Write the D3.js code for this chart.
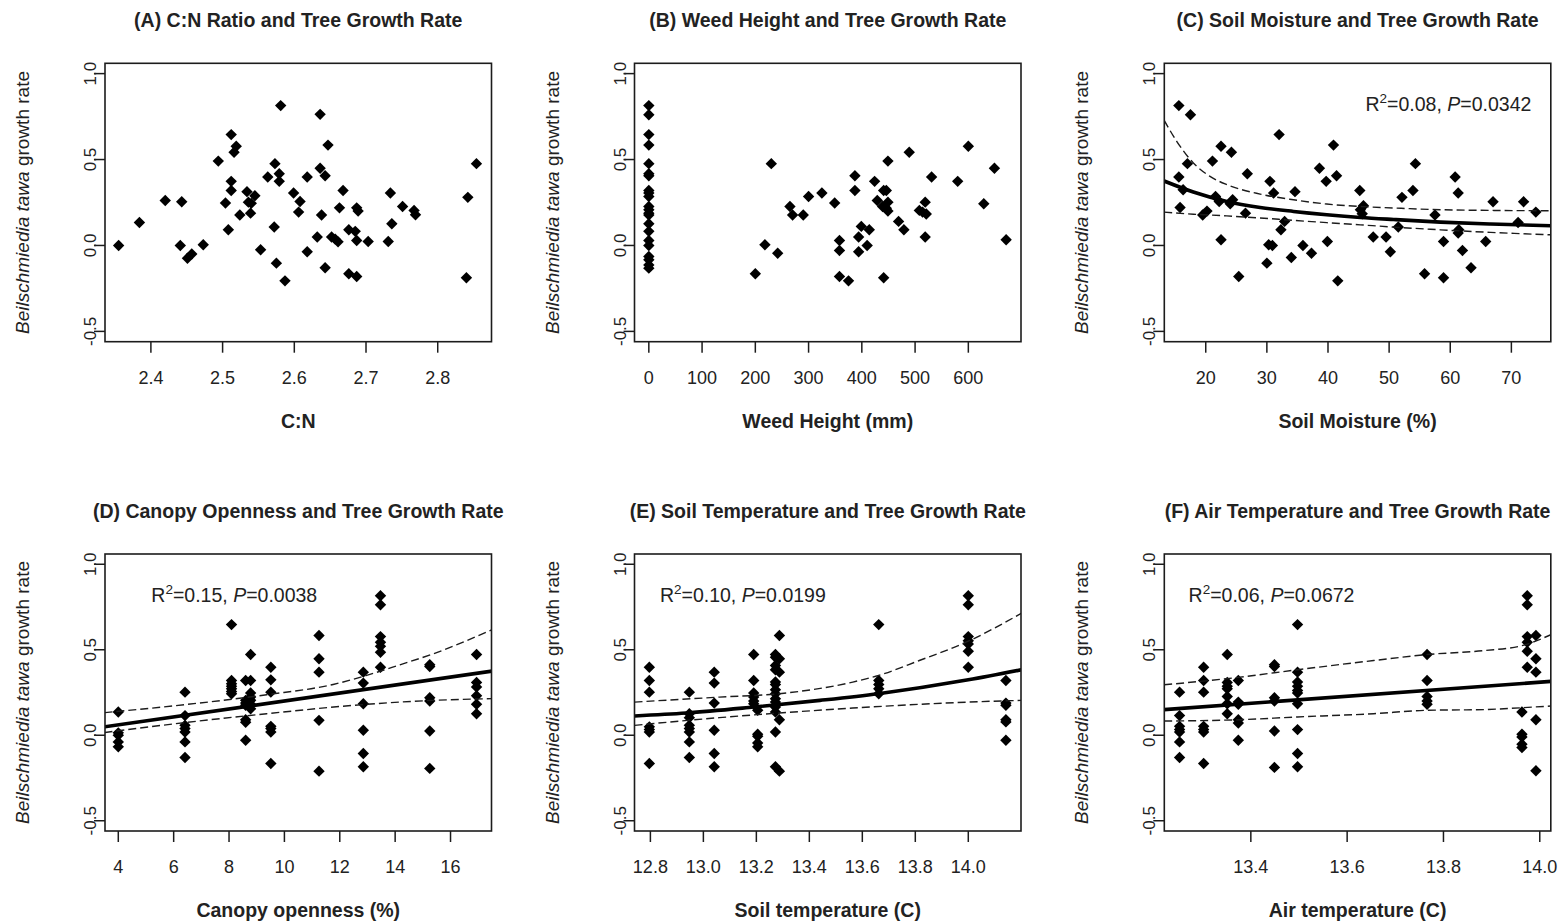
<!DOCTYPE html>
<html>
<head>
<meta charset="utf-8">
<script src="https://cdn.jsdelivr.net/npm/d3@7"></script>
<style>
  body { margin: 0; background: #fff; }
  svg { display: block; }
  text { font-family: "Liberation Sans", Arial, sans-serif; fill: #222; }
</style>
</head>
<body>
<svg id="chart" width="1562" height="923"></svg>
<script>
// ---------- data ----------
// (A) C:N ratio vs growth rate
const cnPoints = [
  [2.355,0.0],[2.384,0.134],[2.420,0.262],[2.443,0.254],[2.441,0.0],[2.451,-0.074],[2.457,-0.05],
  [2.473,0.004],[2.494,0.491],[2.512,0.645],[2.519,0.577],[2.516,0.542],[2.512,0.373],[2.512,0.320],
  [2.504,0.247],[2.508,0.091],[2.524,0.177],[2.534,0.313],[2.536,0.252],[2.540,0.245],[2.539,0.188],
  [2.545,0.289],[2.553,-0.025],[2.563,0.398],[2.573,0.476],[2.581,0.814],[2.579,0.417],[2.579,0.373],
  [2.572,0.107],[2.575,-0.103],[2.587,-0.206],[2.599,0.305],[2.608,0.256],[2.606,0.194],[2.618,0.398],
  [2.618,-0.037],[2.632,0.049],[2.636,0.763],[2.636,0.449],[2.643,0.406],[2.647,0.584],[2.638,0.177],
  [2.643,-0.130],[2.652,0.049],[2.657,0.037],[2.661,0.021],[2.663,0.219],[2.668,0.320],[2.676,0.091],
  [2.685,0.082],[2.687,0.029],[2.687,0.219],[2.689,0.2],[2.676,-0.165],[2.687,-0.181],[2.703,0.023],
  [2.731,0.023],[2.734,0.305],[2.736,0.126],[2.751,0.227],[2.767,0.204],[2.769,0.179],[2.842,0.280],
  [2.840,-0.188],[2.854,0.476]
];

// (B) weed height (mm) vs growth rate
const weedPoints = [
  [0,0.814],[0,0.761],[0,0.645],[0,0.584],[0,0.476],[0,0.417],[0,0.406],[0,0.320],[0,0.305],[0,0.285],
  [0,0.227],[0,0.208],[0,0.188],[0,0.177],[0,0.126],[0,0.082],[0,0.029],[0,0.0],[0,-0.064],[0,-0.083],
  [0,-0.113],[0,-0.132],
  [200,-0.165],[218,0.004],[230,0.476],[242,-0.045],[265,0.227],[270,0.177],[290,0.177],[300,0.285],
  [325,0.305],[349,0.247],[358,0.029],[358,-0.029],[358,-0.181],[375,-0.206],[387,0.406],[387,0.320],
  [394,0.049],[394,-0.037],[399,0.111],[410,0.0],[414,0.091],[424,0.373],[429,0.262],[441,0.320],
  [446,0.320],[439,0.227],[446,0.217],[449,0.252],[449,0.2],[441,-0.188],[449,0.491],[469,0.140],
  [479,0.091],[489,0.542],[508,0.204],[514,0.194],[519,0.252],[521,0.183],[519,0.049],[531,0.398],
  [580,0.373],[600,0.577],[629,0.243],[649,0.449],[671,0.033]
];

// (C) soil moisture (%) vs growth rate
const moisturePoints = [
  [15.6,0.814],[15.6,0.398],[15.8,0.221],[16.3,0.324],[17.5,0.761],[17.0,0.476],[19.5,0.177],[20.2,0.2],
  [21.1,0.491],[21.6,0.285],[22.2,0.256],[22.5,0.577],[22.5,0.033],[24.2,0.542],[24.4,0.266],[24.0,0.243],
  [25.4,-0.181],[26.5,0.188],[26.8,0.417],[30.0,-0.103],[30.5,0.373],[30.3,0.004],[30.9,0.0],[31.1,0.305],
  [32.0,0.645],[32.3,0.091],[32.9,0.140],[34.0,-0.070],[34.6,0.313],[35.9,0.0],[37.3,-0.045],[38.6,0.449],
  [39.7,0.373],[39.9,0.023],[40.9,0.584],[41.4,0.406],[41.6,-0.206],[45.2,0.320],[45.3,0.208],[45.8,0.231],
  [45.6,0.184],[47.4,0.049],[49.5,0.049],[50.2,-0.037],[51.5,0.107],[52.1,0.280],[53.9,0.320],[54.3,0.476],
  [55.8,-0.165],[57.5,0.177],[58.9,0.023],[58.9,-0.188],[60.8,0.398],[61.3,0.305],[61.4,0.091],[61.3,0.072],
  [62.0,-0.029],[63.4,-0.130],[65.8,0.023],[67.0,0.254],[71.1,0.134],[72.0,0.254],[74.0,0.194]
];
const moistureFit   = [[13.2,0.375],[17.97,0.311],[23.44,0.256],[28.9,0.221],[34.36,0.198],[39.8,0.179],
                       [45.3,0.163],[50.75,0.151],[58.4,0.136],[66.6,0.125],[76.5,0.115]];
const moistureUpper = [[13.2,0.728],[15.25,0.606],[17.97,0.48],[20.7,0.402],[23.44,0.354],[28.9,0.299],
                       [34.36,0.266],[39.8,0.241],[45.3,0.227],[50.75,0.218],[58.4,0.208],[66.6,0.204],[76.5,0.202]];
const moistureLower = [[13.2,0.194],[17.97,0.182],[23.44,0.172],[28.9,0.16],[34.36,0.146],[39.8,0.133],
                       [45.3,0.12],[50.75,0.107],[58.4,0.091],[66.6,0.076],[76.5,0.062]];

// (D) canopy openness (%) vs growth rate, one column per plot
const canopyOpenness = [4.0, 6.41, 8.09, 8.60, 8.78, 9.51, 11.25, 12.85, 13.47, 15.25, 16.94];
const canopyGrowth = [
  [0.136,0.014,0.0,-0.039,-0.068],
  [0.252,0.115,0.058,0.039,0.019,-0.039,-0.130],
  [0.647,0.320,0.301,0.287,0.272,0.256,0.243],
  [0.320,0.204,0.188,0.175,0.091,0.076,-0.029],
  [0.472,0.320,0.247,0.223,0.204,0.181,0.155],
  [0.398,0.324,0.252,0.052,0.039,0.019,-0.165],
  [0.583,0.447,0.369,0.087,-0.210],
  [0.369,0.305,0.184,0.029,-0.107,-0.184],
  [0.816,0.763,0.577,0.544,0.520,0.485,0.398],
  [0.412,0.402,0.219,0.2,0.025,-0.194],
  [0.472,0.309,0.282,0.231,0.181,0.126]
];
const canopyFit   = [[3.5,0.049],[17.5,0.375]];
const canopyUpper = [[3.5,0.132],[6.41,0.179],[9.36,0.237],[11.76,0.297],[12.97,0.35],[14.17,0.412],[15.37,0.476],[17.5,0.617]];
const canopyLower = [[3.5,0.016],[6.41,0.074],[9.36,0.126],[12.97,0.181],[15.37,0.204],[17.5,0.214]];

// (E) soil temperature (C) vs growth rate
const soilTemp = [12.796, 12.947, 13.041, 13.19, 13.205, 13.272, 13.287, 13.662, 14.0, 14.142];
const soilTempGrowth = [
  [0.398,0.320,0.252,0.049,0.033,0.019,-0.165],
  [0.252,0.126,0.103,0.058,0.039,0.019,-0.039,-0.130],
  [0.369,0.305,0.188,0.029,-0.107,-0.184],
  [0.472,0.320,0.247,0.223,0.2,0.184],
  [0.146,0.006,-0.006,-0.045,-0.068],
  [0.472,0.456,0.408,0.383,0.311,0.297,0.266,0.243,0.214,0.194,0.165,0.136,0.019,-0.184],
  [0.583,0.447,0.369,0.091,-0.210],
  [0.647,0.320,0.297,0.272,0.243],
  [0.816,0.763,0.577,0.553,0.534,0.491,0.398],
  [0.320,0.188,0.175,0.091,0.078,-0.029]
];
const soilTempFit   = [[12.74,0.113],[12.935,0.130],[13.19,0.165],[13.44,0.204],[13.66,0.243],[14.0,0.324],[14.2,0.383]];
const soilTempUpper = [[12.74,0.194],[13.06,0.223],[13.287,0.243],[13.564,0.311],[13.662,0.35],[13.815,0.437],[14.0,0.55],[14.2,0.713]];
const soilTempLower = [[12.74,0.058],[13.06,0.103],[13.287,0.130],[13.564,0.159],[13.815,0.181],[14.0,0.194],[14.2,0.204]];

// (F) air temperature (C) vs growth rate
const airTemp = [13.252, 13.302, 13.351, 13.374, 13.449, 13.497, 13.766, 13.963, 13.974, 13.992];
const airTempGrowth = [
  [0.252,0.115,0.052,0.033,0.019,-0.039,-0.130],
  [0.398,0.320,0.252,0.052,0.033,0.019,-0.165],
  [0.472,0.309,0.287,0.272,0.227,0.184,0.126],
  [0.320,0.194,0.181,0.091,0.072,-0.029],
  [0.412,0.402,0.219,0.2,0.025,-0.188],
  [0.647,0.369,0.311,0.287,0.262,0.247,0.184,0.033,-0.107,-0.184],
  [0.472,0.320,0.227,0.2,0.181],
  [0.136,0.006,-0.010,-0.052,-0.072],
  [0.816,0.763,0.577,0.544,0.491,0.398],
  [0.583,0.447,0.369,0.091,-0.208]
];
const airTempFit   = [[13.22,0.150],[14.023,0.315]];
const airTempUpper = [[13.22,0.295],[13.378,0.34],[13.497,0.383],[13.655,0.437],[13.766,0.472],[13.884,0.495],[13.963,0.524],[14.023,0.588]];
const airTempLower = [[13.22,0.083],[13.378,0.091],[13.497,0.107],[13.655,0.126],[13.766,0.146],[13.884,0.150],[13.963,0.161],[14.023,0.171]];

// axis ticks
const yTicks = [-0.5, 0.0, 0.5, 1.0];
const cnTicks = [2.4, 2.5, 2.6, 2.7, 2.8];
const weedTicks = [0, 100, 200, 300, 400, 500, 600];
const moistureTicks = [20, 30, 40, 50, 60, 70];
const canopyTicks = [4, 6, 8, 10, 12, 14, 16];
const soilTempTicks = [12.8, 13.0, 13.2, 13.4, 13.6, 13.8, 14.0];
const airTempTicks = [13.4, 13.6, 13.8, 14.0];

// ---------- layout ----------
const columnColumns = (xs, groups) => xs.flatMap((x, i) => groups[i].map(y => [x, y]));
const colLeft = [105, 634.5, 1164.3];
const boxW = 386.5;
const rowTop = [63.3, 554];
const boxH = [278.4, 277];
const yDomain = [-0.56, 1.06];
const fmt1 = v => v.toFixed(1);
const fmt0 = v => String(v);

const panels = [
  { title: "(A) C:N Ratio and Tree Growth Rate", xlab: "C:N", col: 0, row: 0,
    xDomain: [2.336, 2.875], ticks: cnTicks, fmt: fmt1, points: cnPoints },
  { title: "(B) Weed Height and Tree Growth Rate", xlab: "Weed Height (mm)", col: 1, row: 0,
    xDomain: [-26.9, 698.9], ticks: weedTicks, fmt: fmt0, points: weedPoints },
  { title: "(C) Soil Moisture and Tree Growth Rate", xlab: "Soil Moisture (%)", col: 2, row: 0,
    xDomain: [13.22, 76.45], ticks: moistureTicks, fmt: fmt0, points: moisturePoints,
    fit: moistureFit, upper: moistureUpper, lower: moistureLower,
    stat: { r2: "0.08", p: "0.0342", x: 59.7 } },
  { title: "(D) Canopy Openness and Tree Growth Rate", xlab: "Canopy openness (%)", col: 0, row: 1,
    xDomain: [3.52, 17.48], ticks: canopyTicks, fmt: fmt0, points: columnColumns(canopyOpenness, canopyGrowth),
    fit: canopyFit, upper: canopyUpper, lower: canopyLower,
    stat: { r2: "0.15", p: "0.0038", x: 8.19 } },
  { title: "(E) Soil Temperature and Tree Growth Rate", xlab: "Soil temperature (C)", col: 1, row: 1,
    xDomain: [12.74, 14.199], ticks: soilTempTicks, fmt: fmt1, points: columnColumns(soilTemp, soilTempGrowth),
    fit: soilTempFit, upper: soilTempUpper, lower: soilTempLower,
    stat: { r2: "0.10", p: "0.0199", x: 13.149 } },
  { title: "(F) Air Temperature and Tree Growth Rate", xlab: "Air temperature (C)", col: 2, row: 1,
    xDomain: [13.2203, 14.0229], ticks: airTempTicks, fmt: fmt1, points: columnColumns(airTemp, airTempGrowth),
    fit: airTempFit, upper: airTempUpper, lower: airTempLower,
    stat: { r2: "0.06", p: "0.0672", x: 13.443 } }
];

// ---------- drawing ----------
const svg = d3.select("#chart");
const ink = "#1c1c1c";
const diamond = r => `M0,${-r}L${r},0L0,${r}L${-r},0Z`;

panels.forEach((p, i) => {
  const left = colLeft[p.col], top = rowTop[p.row], h = boxH[p.row];
  const right = left + boxW, bottom = top + h;
  const x = d3.scaleLinear().domain(p.xDomain).range([left, right]);
  const y = d3.scaleLinear().domain(yDomain).range([bottom, top]);
  const g = svg.append("g");

  const clipId = "clip" + i;
  svg.append("clipPath").attr("id", clipId)
    .append("rect").attr("x", left).attr("y", top).attr("width", boxW).attr("height", h);

  // points
  g.append("g").selectAll("path").data(p.points).join("path")
    .attr("d", diamond(5.7))
    .attr("transform", d => `translate(${x(d[0])},${y(d[1])})`)
    .attr("fill", "#000");

  // fitted curve and confidence band
  if (p.fit) {
    const line = d3.line().x(d => x(d[0])).y(d => y(d[1])).curve(d3.curveMonotoneX);
    const lines = g.append("g").attr("clip-path", `url(#${clipId})`).attr("fill", "none");
    [p.upper, p.lower].forEach(band => {
      lines.append("path").attr("d", line(band))
        .attr("stroke", ink).attr("stroke-width", 1.4).attr("stroke-dasharray", "8,4");
    });
    lines.append("path").attr("d", line(p.fit))
      .attr("stroke", "#000").attr("stroke-width", 3.6);
  }

  // frame
  g.append("rect").attr("x", left).attr("y", top).attr("width", boxW).attr("height", h)
    .attr("fill", "none").attr("stroke", ink).attr("stroke-width", 1.6);

  // x axis
  const xa = g.append("g");
  xa.selectAll("line").data(p.ticks).join("line")
    .attr("x1", d => x(d)).attr("x2", d => x(d))
    .attr("y1", bottom).attr("y2", bottom + 11)
    .attr("stroke", ink).attr("stroke-width", 1.5);
  xa.selectAll("text").data(p.ticks).join("text")
    .attr("x", d => x(d)).attr("y", bottom + 42)
    .attr("text-anchor", "middle").attr("font-size", 18)
    .text(p.fmt);

  // y axis
  const ya = g.append("g");
  ya.selectAll("line").data(yTicks).join("line")
    .attr("x1", left - 11).attr("x2", left)
    .attr("y1", d => y(d)).attr("y2", d => y(d))
    .attr("stroke", ink).attr("stroke-width", 1.5);
  ya.selectAll("text").data(yTicks).join("text")
    .attr("transform", d => `translate(${left - 9},${y(d)}) rotate(-90)`)
    .attr("text-anchor", "middle").attr("font-size", 17)
    .text(fmt1);

  // titles
  g.append("text").attr("x", left + boxW / 2).attr("y", top - 36.5)
    .attr("text-anchor", "middle").attr("font-size", 19.5).attr("font-weight", "bold")
    .text(p.title);
  g.append("text").attr("x", left + boxW / 2).attr("y", bottom + 86)
    .attr("text-anchor", "middle").attr("font-size", 19.5).attr("font-weight", "bold")
    .text(p.xlab);

  const yl = g.append("text")
    .attr("transform", `translate(${left - 76},${top + h / 2}) rotate(-90)`)
    .attr("text-anchor", "middle").attr("font-size", 19);
  yl.append("tspan").attr("font-style", "italic").text("Beilschmiedia tawa");
  yl.append("tspan").text(" growth rate");

  // regression statistics
  if (p.stat) {
    const t = g.append("text").attr("x", x(p.stat.x)).attr("y", y(0.78))
      .attr("text-anchor", "middle").attr("font-size", 19.5);
    t.append("tspan").text("R");
    t.append("tspan").attr("font-size", 13.5).attr("dy", -8).text("2");
    t.append("tspan").attr("dy", 8).text("=" + p.stat.r2 + ", ");
    t.append("tspan").attr("font-style", "italic").text("P");
    t.append("tspan").text("=" + p.stat.p);
  }
});
</script>
</body>
</html>
